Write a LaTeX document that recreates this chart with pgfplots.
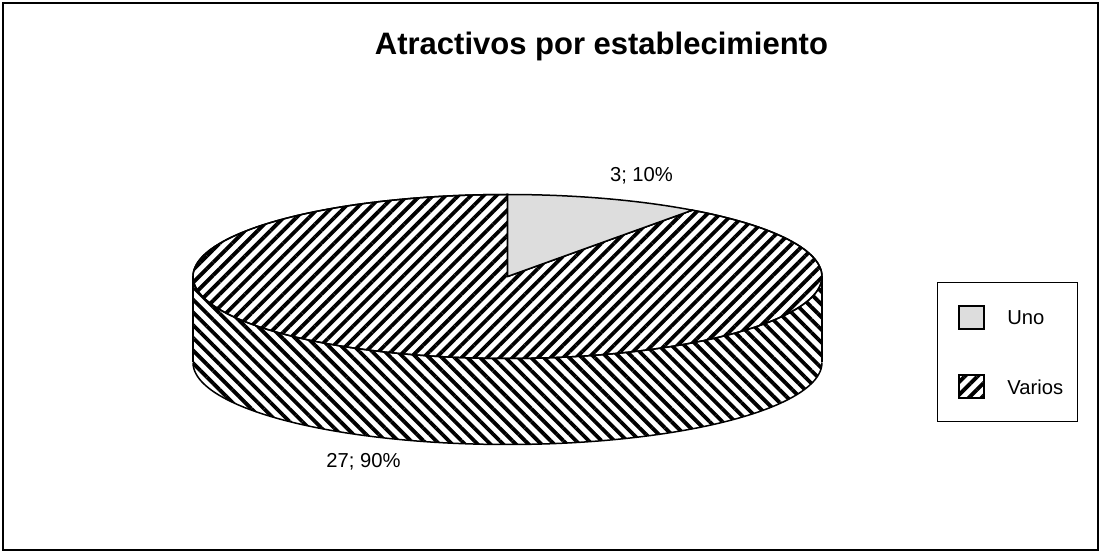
\documentclass[border=0pt]{standalone}
\usepackage{pgfplots}
\pgfplotsset{compat=1.18}
\usepackage{pgfplotstable}
\usepgfplotslibrary{fillbetween}
\usetikzlibrary{patterns.meta}
\usepackage{fontspec}
\setmainfont{Liberation Sans}
\definecolor{unogray}{RGB}{221,221,221}

% attractions per establishment
\pgfplotstableread{
label value
Uno 3
Varios 27
}\piedata

\pgfplotstablegetelem{0}{value}\of\piedata\let\vUno\pgfplotsretval%
\pgfplotstablegetelem{1}{value}\of\piedata\let\vVarios\pgfplotsretval%
\pgfmathsetmacro{\total}{\vUno+\vVarios}%
\pgfmathsetmacro{\aSplit}{90-360*\vUno/\total}%
\pgfmathsetmacro{\aEnd}{90-360}%
\pgfmathtruncatemacro{\pUno}{round(100*\vUno/\total)}%
\pgfmathtruncatemacro{\pVarios}{round(100*\vVarios/\total)}%

% pie geometry (canvas units)
\def\cx{507.5}
\def\cy{276.5}
\def\ra{314.5}
\def\rb{82}
\def\dep{86}

\tikzset{
  hatchtop/.style={pattern={Lines[angle=45,distance=4.5pt,line width=1.9pt]}},
  hatchside/.style={pattern={Lines[angle=-45,distance=4.5pt,line width=1.9pt]}},
  edge/.style={draw=black,line width=0.75pt,line join=round},
}

\begin{document}
\begin{tikzpicture}
\begin{axis}[
  x=0.5pt, y=0.5pt,
  xmin=0, xmax=1100, ymin=0, ymax=552,
  y dir=reverse,
  hide axis, clip=false,
  trig format plots=deg,
]
\path (0,0) rectangle (1100,552);
% chart frame
\draw[line width=0.9pt] (3,3) rectangle (1098,550);

% title
\node[anchor=base, font=\fontsize{15.5}{18}\selectfont\bfseries] at (601.5,55) {Atractivos por establecimiento};

% side wall (front half)
\addplot[draw=none, name path=frontTop, domain=180:360, samples=181, variable=\t]
  ({\cx+\ra*cos(t)}, {\cy-\rb*sin(t)});
\addplot[draw=none, name path=frontBot, domain=180:360, samples=181, variable=\t]
  ({\cx+\ra*cos(t)}, {\cy+\dep-\rb*sin(t)});
\addplot[fill=white, hatchside] fill between[of=frontTop and frontBot];
\addplot[edge, domain=180:360, samples=181, variable=\t]
  ({\cx+\ra*cos(t)}, {\cy+\dep-\rb*sin(t)});
\draw[edge] (\cx-\ra,\cy) -- (\cx-\ra,\cy+\dep);
\draw[edge] (\cx+\ra,\cy) -- (\cx+\ra,\cy+\dep);

% top face: Varios slice
\addplot[edge, fill=white, domain=\aEnd:\aSplit, samples=241, variable=\t]
  ({\cx+\ra*cos(t)}, {\cy-\rb*sin(t)}) -- (\cx,\cy) -- cycle;
\addplot[edge, hatchtop, domain=\aEnd:\aSplit, samples=241, variable=\t]
  ({\cx+\ra*cos(t)}, {\cy-\rb*sin(t)}) -- (\cx,\cy) -- cycle;
% top face: Uno slice
\addplot[edge, fill=unogray, domain=\aSplit:90, samples=61, variable=\t]
  ({\cx+\ra*cos(t)}, {\cy-\rb*sin(t)}) -- (\cx,\cy) -- cycle;

% data labels
\node[anchor=base, font=\fontsize{10.1}{12}\selectfont] at (641.5,182)
  {\vUno; \pUno\%};
\node[anchor=base, font=\fontsize{10.1}{12}\selectfont] at (363.5,468)
  {\vVarios; \pVarios\%};

% legend
\draw[line width=0.5pt] (937,283) rectangle (1077,422);
\filldraw[fill=unogray, draw=black, line width=0.8pt] (959,306) rectangle (984,329);
\fill[white] (959,375) rectangle (984,398);
\draw[hatchtop, draw=black, line width=0.8pt] (959,375) rectangle (984,398);
\node[anchor=base west, inner sep=0pt, font=\fontsize{10.1}{12}\selectfont] at (1007,325) {Uno};
\node[anchor=base west, inner sep=0pt, font=\fontsize{10.1}{12}\selectfont] at (1007,395) {Varios};
\end{axis}
\end{tikzpicture}
\end{document}
